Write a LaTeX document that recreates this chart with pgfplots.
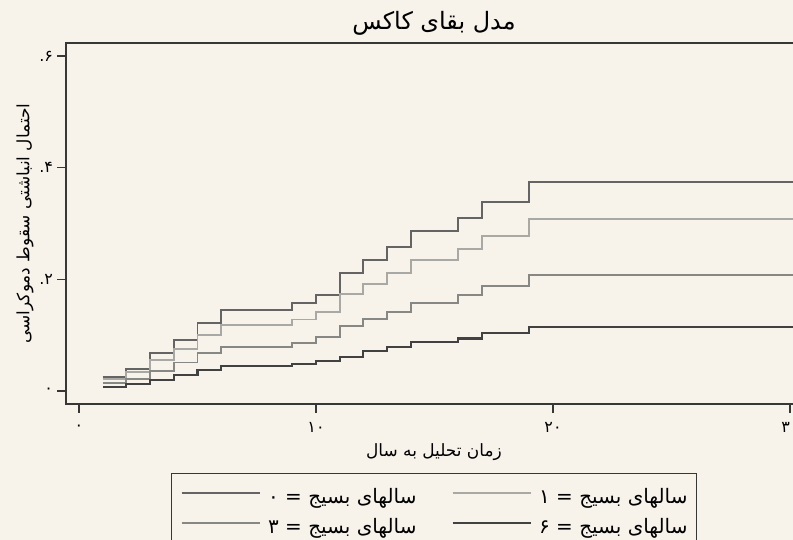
\documentclass[border=0pt]{standalone}
\usepackage{fontspec}
\usepackage{pgfplots}
\pgfplotsset{compat=1.18}
\TeXXeTstate=1
\newfontfamily\arabicfont[Script=Arabic]{DejaVu Sans}
\definecolor{bg}{RGB}{247,243,235}
\definecolor{axiscol}{RGB}{55,55,55}
\definecolor{sA}{RGB}{100,100,100}
\definecolor{sB}{RGB}{168,168,165}
\definecolor{sC}{RGB}{135,135,132}
\definecolor{sD}{RGB}{65,65,65}
\newcommand{\leg}[1]{\makebox[148bp][r]{\beginR #1\endR}}
\begin{document}
\begin{tikzpicture}
\path[use as bounding box, fill=bg] (0,0) rectangle (793bp,540bp);
\begin{axis}[
  at={(66bp,136bp)}, anchor=south west,
  scale only axis, width=735.9bp, height=361bp,
  xmin=-0.549, xmax=30.5, ymin=-0.0233, ymax=0.6233,
  axis background/.style={fill=bg},
  axis line style={draw=axiscol, line width=1.3bp},
  xtick={0,10,20,30}, xticklabels={۰,۱۰,۲۰,۳۰},
  ytick={0,0.2,0.4,0.6}, yticklabels={۰,\mbox{.}\mbox{۲},\mbox{.}\mbox{۴},\mbox{.}\mbox{۶}},
  xtick pos=bottom, ytick pos=left,
  tick align=outside, major tick length=8.5bp,
  tick style={line width=1.2bp, draw=axiscol},
  ticklabel style={font=\arabicfont\fontsize{16}{16}\selectfont, text=black},
  xticklabel style={anchor=center, yshift=-15bp},
  yticklabel style={anchor=east, xshift=-1bp},
  title={\beginR مدل بقای کاکس\endR},
  title style={at={(axis description cs:0.5,1)}, anchor=center, yshift=14bp, font=\arabicfont\fontsize{24}{24}\selectfont},
  xlabel={\beginR زمان تحلیل به سال\endR},
  xlabel style={at={(axis description cs:0.5,0)}, anchor=center, yshift=-48bp, font=\arabicfont\fontsize{17}{17}\selectfont},
  ylabel={\beginR احتمال انباشتی سقوط دموکراسی\endR},
  ylabel style={at={(axis description cs:-0.0557,0.5)}, anchor=center, font=\arabicfont\fontsize{17}{17}\selectfont},
  legend columns=2,
  legend cell align=left,
  legend image code/.code={\draw[#1, line width=2bp] (0bp,6bp) -- (78bp,6bp);},
  legend style={at={(axis description cs:0,0)}, anchor=north west, xshift=105bp, yshift=-69bp,
    draw=axiscol, line width=1bp, fill=bg, inner xsep=9bp, inner ysep=14bp,
    font=\arabicfont\fontsize{20}{20}\selectfont,
    nodes={inner xsep=0bp, inner ysep=0bp, text height=16bp, text depth=6bp},
    row sep=8bp,
    /tikz/every odd column/.append style={column sep=8bp},
    /tikz/every even column/.append style={column sep=35bp}},
]
\addplot[const plot, draw=sA, line width=1.9bp] coordinates {
(1,0.0245) (2,0.040) (3,0.068) (4,0.092) (5,0.122) (6,0.145) (9,0.158) (10,0.1725)
(11,0.211) (12,0.235) (13,0.258) (14,0.2866) (16,0.3105) (17,0.339) (19,0.375) (30.5,0.375)};
\addlegendentry{\leg{سالهای بسیج = ۰}}
\addplot[const plot, draw=sB, line width=1.9bp] coordinates {
(1,0.021) (2,0.034) (3,0.0555) (4,0.076) (5,0.101) (6,0.119) (9,0.128) (10,0.142)
(11,0.173) (12,0.192) (13,0.211) (14,0.2346) (16,0.254) (17,0.2776) (19,0.308) (30.5,0.308)};
\addlegendentry{\leg{سالهای بسیج = ۱}}
\addplot[const plot, draw=sC, line width=1.9bp] coordinates {
(1,0.015) (2,0.022) (3,0.036) (4,0.051) (5,0.0675) (6,0.079) (9,0.0865) (10,0.096)
(11,0.117) (12,0.1296) (13,0.142) (14,0.157) (16,0.172) (17,0.1875) (19,0.207) (30.5,0.207)};
\addlegendentry{\leg{سالهای بسیج = ۳}}
\addplot[const plot, draw=sD, line width=2.1bp] coordinates {
(1,0.0078) (2,0.0125) (3,0.0197) (4,0.028) (5,0.037) (6,0.044) (9,0.048) (10,0.053)
(11,0.061) (12,0.0713) (13,0.078) (14,0.087) (16,0.094) (17,0.104) (19,0.115) (30.5,0.115)};
\addlegendentry{\leg{سالهای بسیج = ۶}}
\end{axis}
\end{tikzpicture}
\end{document}
